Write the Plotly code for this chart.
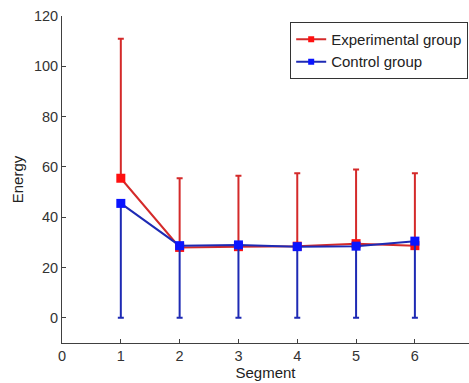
import plotly.graph_objects as go

segments = [1, 2, 3, 4, 5, 6]
exp_mean = [55.5, 28.0, 28.3, 28.5, 29.5, 28.7]
exp_err_up = [55.5, 27.5, 28.2, 29.0, 29.5, 28.8]
ctrl_mean = [45.5, 28.7, 29.0, 28.3, 28.5, 30.5]
ctrl_err_down = [45.5, 28.7, 29.0, 28.3, 28.5, 30.5]
zeros = [0, 0, 0, 0, 0, 0]
series_names = ["Experimental group", "Control group"]

red_line = "#d42a2a"
red_mark = "#ff1010"
blue_line = "#1e2ab4"
blue_mark = "#0a14ff"
FONT = "Liberation Sans, Arial, sans-serif"

fig = go.Figure()
fig.add_trace(go.Scatter(
    x=segments, y=exp_mean, mode="lines+markers", name=series_names[0], showlegend=False,
    line=dict(color=red_line, width=2),
    marker=dict(symbol="square", size=9, color=red_mark),
    error_y=dict(type="data", symmetric=False, array=exp_err_up, arrayminus=zeros,
                 color=red_line, thickness=2, width=3),
))
fig.add_trace(go.Scatter(
    x=segments, y=ctrl_mean, mode="lines+markers", name=series_names[1], showlegend=False,
    line=dict(color=blue_line, width=2),
    marker=dict(symbol="square", size=9, color=blue_mark),
    error_y=dict(type="data", symmetric=False, array=zeros, arrayminus=ctrl_err_down,
                 color=blue_line, thickness=2, width=3),
))
# legend entries (smaller markers as in the reference)
for nm, lc, mc in [(series_names[0], red_line, red_mark), (series_names[1], blue_line, blue_mark)]:
    fig.add_trace(go.Scatter(
        x=[None], y=[None], mode="lines+markers", name=nm,
        line=dict(color=lc, width=2),
        marker=dict(symbol="square", size=6, color=mc),
    ))

axis_common = dict(
    showgrid=False, zeroline=False, showline=True, linecolor="#404040", linewidth=1,
    ticks="inside", ticklen=4, tickcolor="#404040",
    tickfont=dict(family=FONT, size=14.5, color="#333333"),
)
fig.update_xaxes(range=[0, 6.92], tickvals=[0, 1, 2, 3, 4, 5, 6],
                 title=dict(text="Segment", standoff=2,
                            font=dict(family=FONT, size=15, color="#222222")),
                 **axis_common)
fig.update_yaxes(range=[-10, 120], tickvals=[0, 20, 40, 60, 80, 100, 120],
                 title=dict(text="Energy", standoff=6,
                            font=dict(family=FONT, size=15, color="#222222")),
                 **axis_common)

fig.update_layout(
    width=469, height=383,
    margin=dict(l=62, r=0, t=16, b=40),
    plot_bgcolor="white", paper_bgcolor="white",
    showlegend=True,
    legend=dict(x=0.998, y=0.982, xanchor="right", yanchor="top",
                bordercolor="#333333", borderwidth=1, bgcolor="white",
                font=dict(family=FONT, size=15, color="#222222"),
                tracegroupgap=0, itemwidth=30),
)

fig.write_html("out.html")
